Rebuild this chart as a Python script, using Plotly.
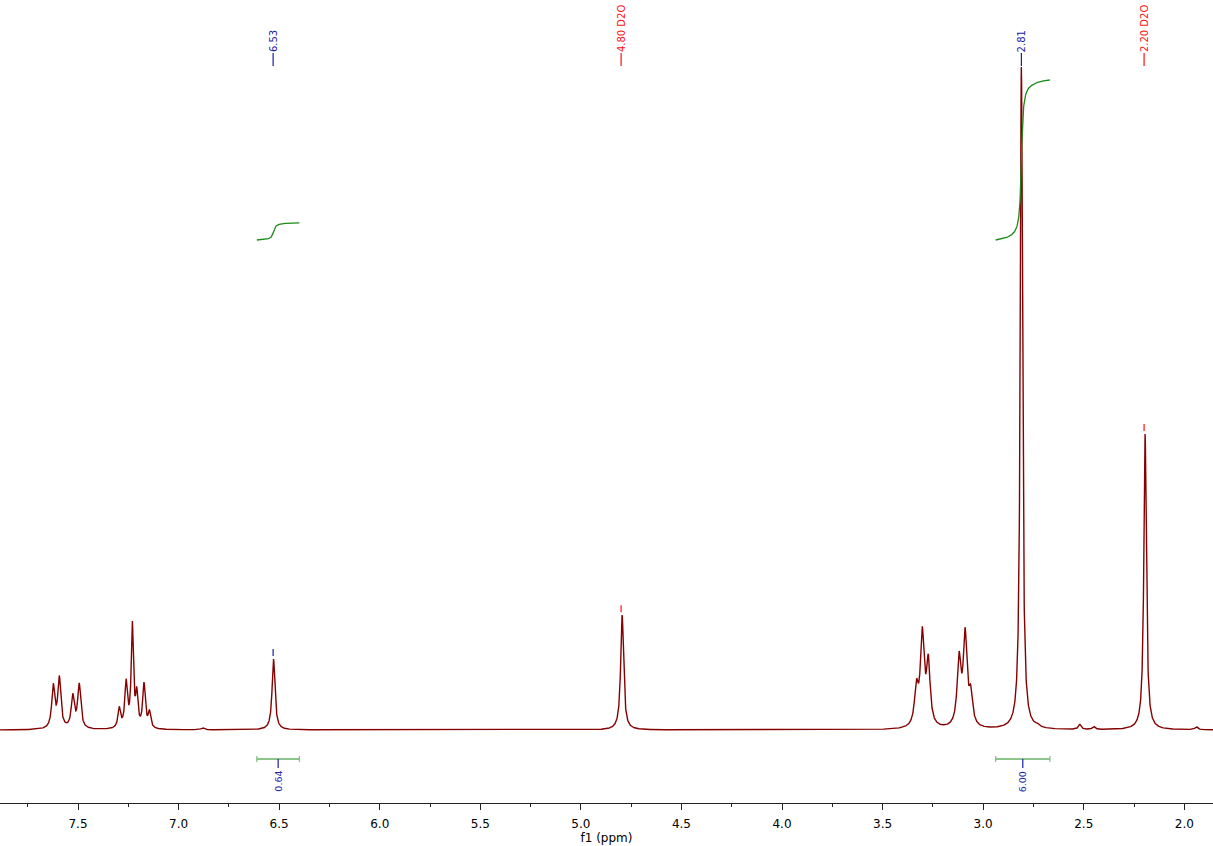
import numpy as np
import plotly.graph_objects as go

# ---------------- data ----------------
# peak list: chemical shift (ppm), height (arb. units), half width (ppm)
peak_ppm = [7.623, 7.593, 7.526, 7.494,
            7.295, 7.261, 7.230, 7.208, 7.172, 7.145,
            6.880, 6.528, 4.795,
            3.332, 3.303, 3.273, 3.120, 3.090, 3.062,
            2.810, 2.730, 2.520, 2.450, 2.195, 1.940]
peak_height = [42, 50, 32, 44,
               20, 45, 103, 32, 44, 16,
               2, 71, 115,
               37, 91, 63, 66, 90, 30,
               664, 2, 5, 3, 296, 3]
peak_width = [0.009, 0.009, 0.009, 0.009,
              0.0075, 0.0075, 0.0065, 0.0065, 0.0075, 0.0075,
              0.01, 0.0085, 0.0085,
              0.011, 0.011, 0.011, 0.011, 0.011, 0.011,
              0.0068, 0.01, 0.008, 0.008, 0.0075, 0.008]

# peak labels on top
label_ppm = [6.53, 4.80, 2.81, 2.20]
label_text = ["6.53", "4.80 D2O", "2.81", "2.20 D2O"]
label_color = ["#1c1ca6", "#ff1010", "#1c1ca6", "#ff1010"]

# integrals
int_from = [6.611, 2.938]
int_to = [6.399, 2.668]
int_value = [0.64, 6.00]
int_text = ["0.64", "6.00"]

# axis
x_range = [7.8878, 1.8574]
tick_vals = [7.5, 7.0, 6.5, 6.0, 5.5, 5.0, 4.5, 4.0, 3.5, 3.0, 2.5, 2.0]
tick_text = ["7.5", "7.0", "6.5", "6.0", "5.5", "5.0", "4.5", "4.0", "3.5", "3.0", "2.5", "2.0"]

# ---------------- build spectrum ----------------
ppm = np.linspace(x_range[0], x_range[1], 8000)
spec = np.zeros_like(ppm)
for c, h, w in zip(peak_ppm, peak_height, peak_width):
    spec += h * w ** 2 / (w ** 2 + (ppm - c) ** 2)

SPEC_COLOR = "#850000"
GREEN = "#1a8a1a"
BLUE = "#1c1ca6"
FONT = "DejaVu Sans"

fig = go.Figure()
fig.add_trace(go.Scatter(x=ppm, y=spec, mode="lines",
                         line=dict(color=SPEC_COLOR, width=1.4),
                         hoverinfo="skip", showlegend=False))

# integral curves
INT_BASE = 490
INT_SCALE = 160 / 6.00
for a, b, v in zip(int_from, int_to, int_value):
    m = (ppm <= a) & (ppm >= b)
    xs = ppm[m]
    ys = spec[m]
    cum = np.concatenate([[0], np.cumsum((ys[1:] + ys[:-1]) / 2 * np.abs(np.diff(xs)))])
    cum = cum / cum[-1]
    fig.add_trace(go.Scatter(x=xs, y=INT_BASE + cum * v * INT_SCALE, mode="lines",
                             line=dict(color=GREEN, width=1.3),
                             hoverinfo="skip", showlegend=False))

shapes = []
annotations = []

# top peak labels
for p, t, col in zip(label_ppm, label_text, label_color):
    shapes.append(dict(type="line", xref="x", yref="y", x0=p, x1=p, y0=664, y1=677,
                       line=dict(color=col, width=1.2)))
    annotations.append(dict(x=p, y=677, xref="x", yref="y", text=t, showarrow=False,
                            textangle=-90, xanchor="center", yanchor="bottom",
                            font=dict(family=FONT, size=10, color=col), borderpad=0))
    # small marker just above the peak top
    m = np.abs(ppm - p) < 0.02
    top = spec[m].max()
    if top < 640:
        shapes.append(dict(type="line", xref="x", yref="y", x0=p, x1=p,
                           y0=top + 3, y1=top + 10, line=dict(color=col, width=1.2)))

# integral bars
BAR_Y = -29
for a, b, t in zip(int_from, int_to, int_text):
    mid = (a + b) / 2
    shapes.append(dict(type="line", xref="x", yref="y", x0=a, x1=b, y0=BAR_Y, y1=BAR_Y,
                       line=dict(color=GREEN, width=1.2)))
    for e in (a, b):
        shapes.append(dict(type="line", xref="x", yref="y", x0=e, x1=e,
                           y0=BAR_Y - 3, y1=BAR_Y + 3, line=dict(color="#7fc07f", width=1.2)))
    shapes.append(dict(type="line", xref="x", yref="y", x0=mid, x1=mid,
                       y0=BAR_Y, y1=BAR_Y - 9, line=dict(color=BLUE, width=1.2)))
    annotations.append(dict(x=mid, y=BAR_Y - 11, xref="x", yref="y", text=t, showarrow=False,
                            textangle=-90, xanchor="center", yanchor="top",
                            font=dict(family=FONT, size=9.5, color=BLUE), borderpad=0))

fig.update_layout(
    width=1213, height=846,
    margin=dict(l=0, r=0, t=0, b=43),
    plot_bgcolor="white", paper_bgcolor="white",
    shapes=shapes, annotations=annotations,
    xaxis=dict(range=x_range, showgrid=False, zeroline=False,
               showline=True, linecolor="#222222", linewidth=1,
               ticks="outside", ticklen=6, tickcolor="#222222", tickwidth=1,
               tickvals=tick_vals, ticktext=tick_text,
               tickfont=dict(family=FONT, size=12, color="black"),
               ticklabelstandoff=4,
               minor=dict(dtick=0.25, tick0=0, ticks="outside", ticklen=3,
                          tickcolor="#222222", showgrid=False),
               title=dict(text="f1 (ppm)", font=dict(family=FONT, size=12, color="black"),
                          standoff=0),
               automargin=False),
    yaxis=dict(range=[-73, 730], visible=False, fixedrange=True),
)

fig.write_html("out.html", config={"displayModeBar": False},
               post_script="document.body.style.margin='0px';document.body.style.overflow='hidden';")
